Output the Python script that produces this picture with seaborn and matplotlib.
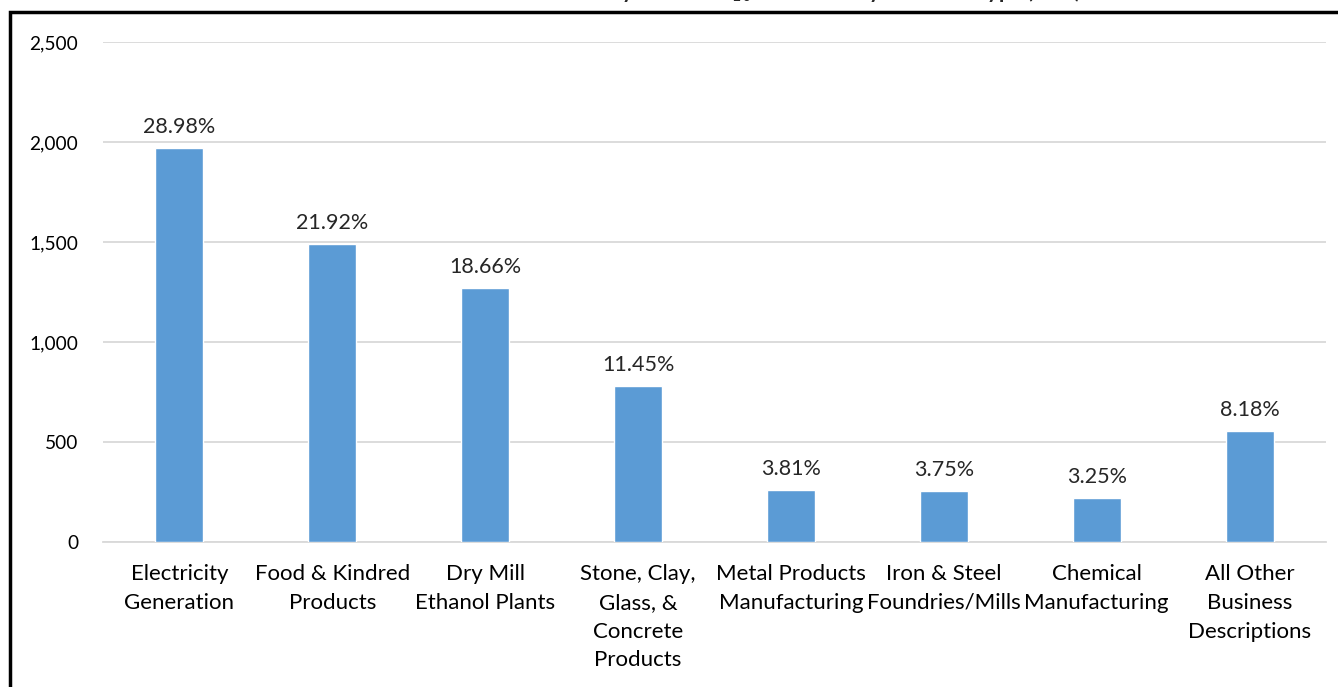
import matplotlib
matplotlib.use("Agg")
import matplotlib.pyplot as plt
import seaborn as sns
import pandas as pd
from matplotlib.patches import Rectangle

# values
categories = [
    "Electricity\nGeneration",
    "Food & Kindred\nProducts",
    "Dry Mill\nEthanol Plants",
    "Stone, Clay,\nGlass, &\nConcrete\nProducts",
    "Metal Products\nManufacturing",
    "Iron & Steel\nFoundries/Mills",
    "Chemical\nManufacturing",
    "All Other\nBusiness\nDescriptions",
]
tons = [1970, 1490, 1268, 778, 259, 255, 221, 556]
percents = ["28.98%", "21.92%", "18.66%", "11.45%", "3.81%", "3.75%", "3.25%", "8.18%"]
yticks = [0, 500, 1000, 1500, 2000, 2500]

df = pd.DataFrame({"category": categories, "tons": tons})

sns.set_style("white")
plt.rcParams["font.family"] = ["Lato", "DejaVu Sans"]

fig = plt.figure(figsize=(13.38, 6.87), dpi=100)
ax = fig.add_axes([103 / 1338, 1 - 542 / 687, 1223 / 1338, 500 / 687])

sns.barplot(data=df, x="category", y="tons", color="#5B9BD5", saturation=1,
            width=0.314, ax=ax, zorder=3)

ax.set_ylim(0, 2500)
ax.set_yticks(yticks)
ax.set_yticklabels([f"{v:,}" for v in yticks], fontsize=13.8)
ax.set_xticks(range(len(categories)))
ax.set_xticklabels(categories, fontsize=16, linespacing=1.54)
ax.set_xlabel("")
ax.set_ylabel("")
ax.grid(True, axis="y", color="#D9D9D9", linewidth=1.3, zorder=0)
for side in ["left", "right", "top"]:
    ax.spines[side].set_visible(False)
ax.spines["bottom"].set_color("#D9D9D9")
ax.spines["bottom"].set_linewidth(1.3)
ax.tick_params(axis="both", length=0, colors="black")
ax.tick_params(axis="y", pad=18)
ax.tick_params(axis="x", pad=16)

for i, (v, p) in enumerate(zip(tons, percents)):
    ax.annotate(p, (i, v), xytext=(0, 8), textcoords="offset points",
                ha="center", va="bottom", fontsize=15.5)

# black frame of the original chart object (partly cut off)
fig.patches.append(Rectangle((9.5 / 1338, -0.2), 1.5, 1 - 12 / 687 + 0.2,
                             transform=fig.transFigure, fill=False,
                             edgecolor="black", linewidth=2.5))

# title, cut off at the top edge in the reference
fig.text(0.5, 1 - 4 / 687,
         "2017 Point Source Emissions Inventory: Total PM$_{10}$ Emissions by Business Type (tons)",
         ha="center", va="bottom", fontsize=15.5, fontweight="bold")

fig.savefig("out.png", dpi=100)
